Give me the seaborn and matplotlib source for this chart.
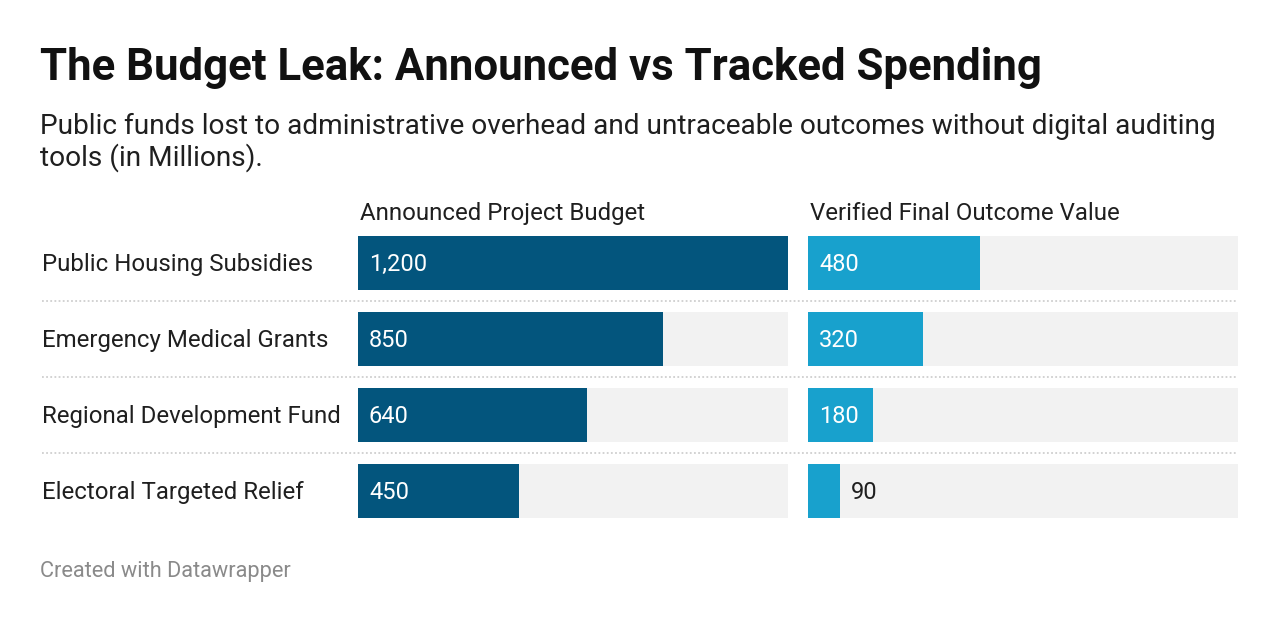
import matplotlib
matplotlib.use("Agg")
import matplotlib.pyplot as plt
import matplotlib.transforms as mtransforms
from matplotlib.lines import Line2D
import seaborn as sns
import pandas as pd

# ---------------- data ----------------
categories = ["Public Housing Subsidies", "Emergency Medical Grants",
              "Regional Development Fund", "Electoral Targeted Relief"]
announced = [1200, 850, 640, 450]
verified = [480, 320, 180, 90]
column_titles = ["Announced Project Budget", "Verified Final Outcome Value"]
title = "The Budget Leak: Announced vs Tracked Spending"
subtitle_lines = ["Public funds lost to administrative overhead and untraceable outcomes without digital auditing",
                  "tools (in Millions)."]
footer = "Created with Datawrapper"

# ---------------- style ----------------
W, H = 1280, 624
DARK = "#03557d"
LIGHT = "#18a1cd"
BG = "#f2f2f2"
TXT = "#1f1f1f"

sns.set_theme(style="white")
plt.rcParams["font.family"] = ["Roboto", "DejaVu Sans"]

fig = plt.figure(figsize=(W / 100, H / 100), dpi=100)
fig.patch.set_facecolor("white")

def fx(px):
    return px / W

def fy(py):
    return 1 - py / H

# panel geometry (pixels)
panel_left = [358, 808]
panel_w = 430
row_pitch = 76
first_center = 263
n = len(categories)
ax_top = first_center - row_pitch / 2
ax_bottom = ax_top + row_pitch * n
bar_frac = 54 / 76

max_val = max(announced)
df = pd.DataFrame({"cat": categories, "announced": announced,
                   "verified": verified, "full": [max_val] * n})

axes = []
for k, (col, color) in enumerate([("announced", DARK), ("verified", LIGHT)]):
    ax = fig.add_axes([fx(panel_left[k]), fy(ax_bottom), fx(panel_w),
                       (ax_bottom - ax_top) / H])
    sns.barplot(data=df, y="cat", x="full", color=BG, orient="h",
                width=bar_frac, saturation=1, linewidth=0, ax=ax)
    sns.barplot(data=df, y="cat", x=col, color=color, orient="h",
                width=bar_frac, saturation=1, linewidth=0, ax=ax)
    ax.set_xlim(0, max_val)
    ax.set_ylim(n - 0.5, -0.5)
    ax.axis("off")
    axes.append(ax)

    # value labels
    px_per_unit = panel_w / max_val
    for i, v in enumerate(df[col]):
        label = f"{v:,}"
        bar_px = v * px_per_unit
        est_w = len(label) * 13 + 12
        off = mtransforms.ScaledTranslation(11 / 100, -7.8 / 100, fig.dpi_scale_trans)
        if bar_px >= est_w + 10:
            ax.text(0, i, label, transform=ax.transData + off, color="white",
                    fontsize=17, va="baseline", ha="left")
        else:
            ax.text(v, i, label, transform=ax.transData + off, color=TXT,
                    fontsize=17, va="baseline", ha="left")

    # column header
    fig.text(fx(panel_left[k] + 2), fy(220), column_titles[k], fontsize=17.3,
             color=TXT, va="baseline", ha="left")

# row labels
ax0 = axes[0]
blend = mtransforms.blended_transform_factory(fig.transFigure, ax0.transData)
for i, c in enumerate(categories):
    off = mtransforms.ScaledTranslation(0, -7.8 / 100, fig.dpi_scale_trans)
    ax0.text(fx(42), i, c, transform=blend + off, fontsize=17.3, color=TXT,
             va="baseline", ha="left")

# dotted separators between rows
for i in range(n - 1):
    yb = first_center + row_pitch * (i + 0.5)
    fig.add_artist(Line2D([fx(42), fx(1238)], [fy(yb), fy(yb)],
                          transform=fig.transFigure, color="#cfcfcf",
                          linewidth=1.3, linestyle=(0, (1, 1.3))))

# title / subtitle / footer
fig.text(fx(40), fy(80), title, fontsize=31.5, fontweight="bold", color="#111111",
         va="baseline", ha="left")
for j, line in enumerate(subtitle_lines):
    fig.text(fx(40), fy(134 + 32 * j), line, fontsize=20.2, color=TXT,
             va="baseline", ha="left")
fig.text(fx(40), fy(577), footer, fontsize=15.7, color="#8a8a8a",
         va="baseline", ha="left")

fig.savefig("out.png", dpi=100, facecolor="white")
